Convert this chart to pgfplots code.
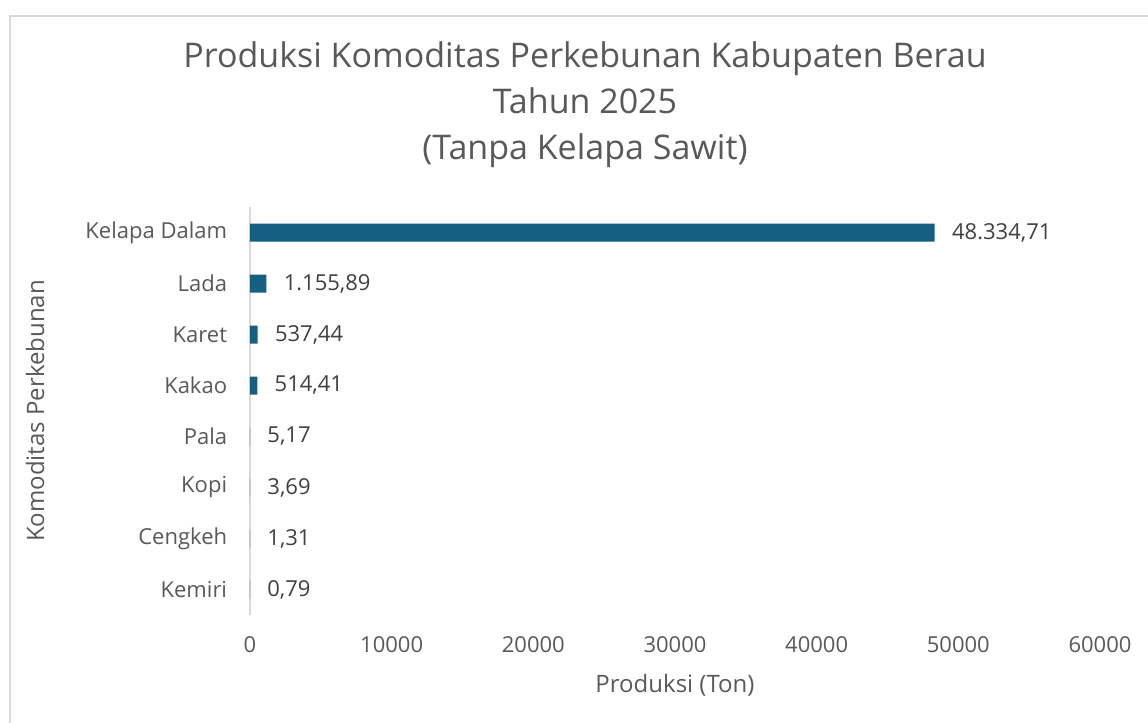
\documentclass[border=0pt]{standalone}
\usepackage{pgfplots}
\pgfplotsset{compat=1.18}
\usepackage{fontspec}
\setmainfont{Open Sans}
\definecolor{barc}{HTML}{156082}
\definecolor{txt}{HTML}{595959}
\definecolor{lbl}{HTML}{404040}
\definecolor{axc}{HTML}{D9D9D9}
\begin{document}
\begin{tikzpicture}
\useasboundingbox (0pt,0pt) rectangle (574pt,361.5pt);
\draw[axc, line width=0.7pt] (5pt,-10pt) -- (5pt,353.5pt) -- (600pt,353.5pt);
\node[txt, font=\fontsize{17}{23}\selectfont, align=center] at (292.5pt,309pt)
  {Produksi Komoditas Perkebunan Kabupaten Berau\\Tahun 2025\\(Tanpa Kelapa Sawit)};
\begin{axis}[
  at={(125pt,54pt)}, anchor=south west,
  scale only axis, width=425pt, height=204pt,
  xbar, bar width=9pt,
  xmin=0, xmax=60000,
  ymin=-0.5, ymax=7.5, y dir=reverse,
  ytick={0,...,7},
  yticklabels={Kelapa Dalam,Lada,Karet,Kakao,Pala,Kopi,Cengkeh,Kemiri},
  xtick={0,10000,...,60000},
  scaled x ticks=false,
  /pgf/number format/assume math mode=true,
  xticklabel style={/pgf/number format/fixed, /pgf/number format/1000 sep={}, anchor=center, yshift=-15pt, inner sep=0pt, font=\fontsize{11}{13}\selectfont, text=txt},
  yticklabel style={anchor=east, inner sep=0pt, xshift=-7pt, font=\fontsize{11}{13}\selectfont, text=txt},
  axis x line*=bottom, axis y line*=left,
  x axis line style={draw=none},
  y axis line style={draw=axc, line width=0.8pt},
  tick style={draw=none},
  xlabel={Produksi (Ton)}, ylabel={Komoditas Perkebunan},
  xlabel style={at={(axis description cs:0.5,-0.1716)}, anchor=center, font=\fontsize{12}{14}\selectfont, text=txt},
  ylabel style={at={(axis description cs:-0.2529,0.5)}, anchor=center, font=\fontsize{12}{14}\selectfont, text=txt},
  nodes near coords,
  point meta=explicit symbolic,
  nodes near coords style={anchor=west, inner sep=0pt, xshift=8.5pt, font=\fontsize{11}{13}\selectfont, text=lbl},
  clip=false,
]
\addplot[fill=barc, draw=none] coordinates {
  (48334.71,0) [48.334,71]
  (1155.89,1) [1.155,89]
  (537.44,2) [537,44]
  (514.41,3) [514,41]
  (5.17,4) [5,17]
  (3.69,5) [3,69]
  (1.31,6) [1,31]
  (0.79,7) [0,79]
};
\end{axis}
\end{tikzpicture}
\end{document}
